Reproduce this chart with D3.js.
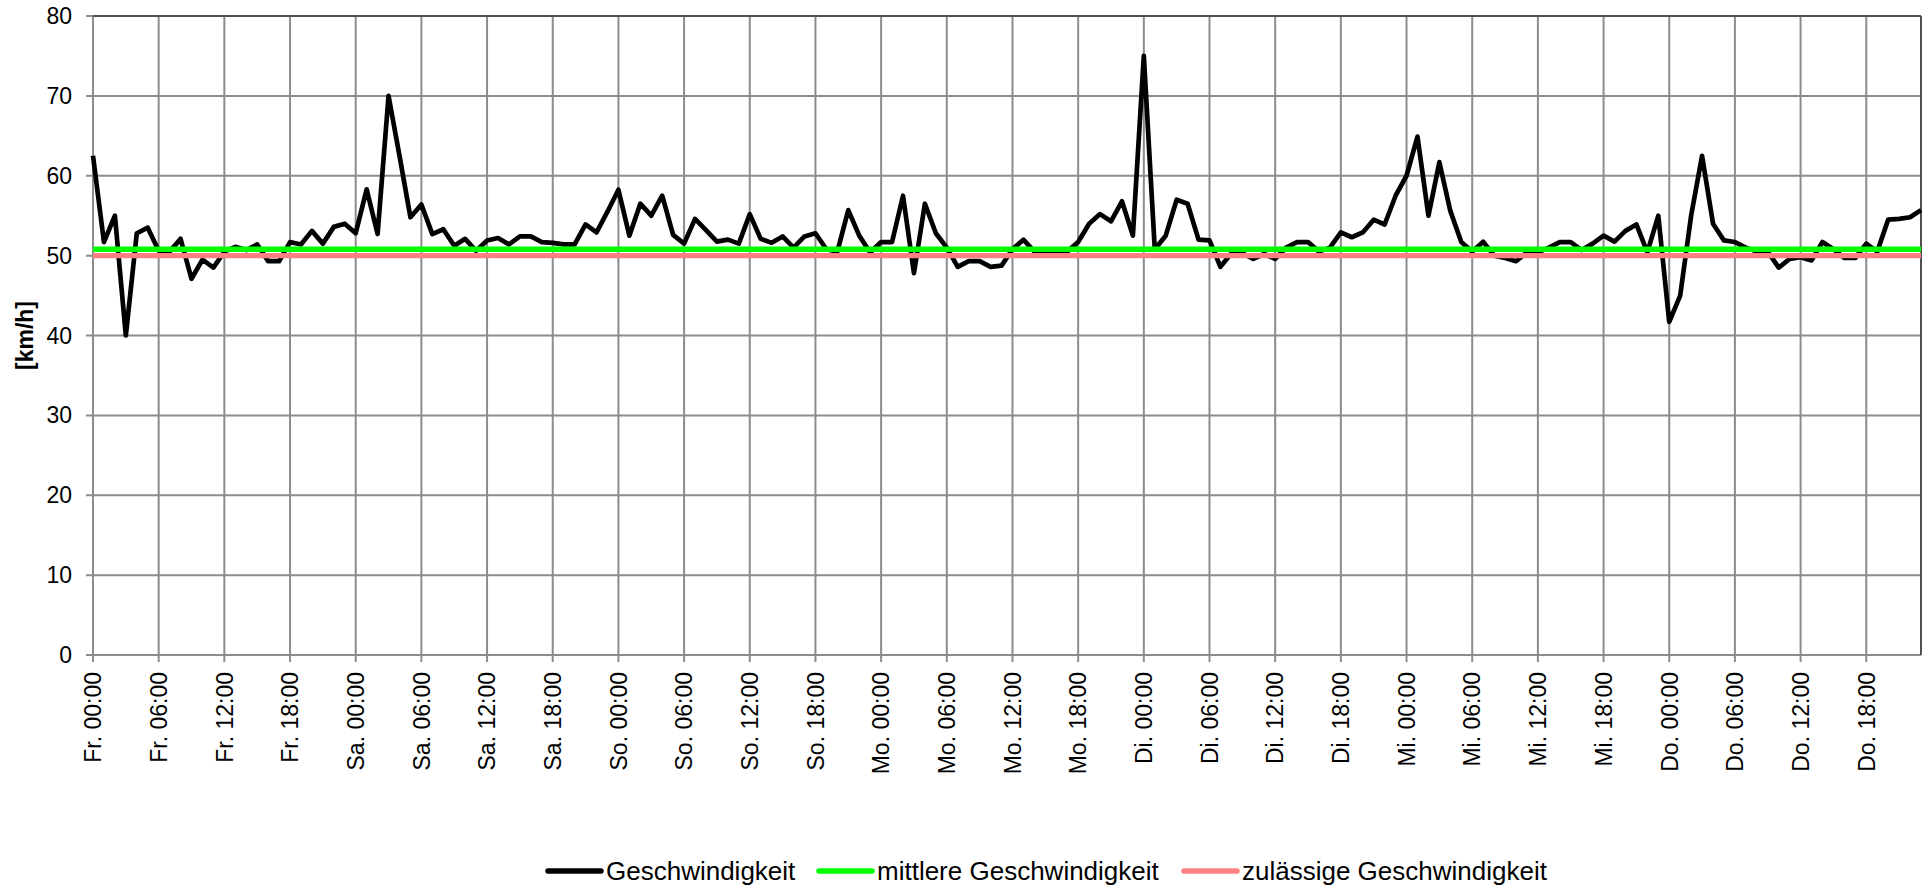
<html>
  <script src="https://cdnjs.cloudflare.com/ajax/libs/d3/7.8.5/d3.min.js"></script>
  <style>
    html, body{
      width: 100%;
      height: 100%;
      padding: 0px;
      margin: 0px;
      background: #fff;
    }
    text {
      font-family: "Liberation Sans", Arial, sans-serif;
      fill: #000;
    }
  </style>
  <body>
    <div id="graph"></div>
    <script>
      // hourly speeds, Fr. 00:00 .. Do. 23:00
      var speed = [
        62.5, 51.7, 55.0, 40.0, 52.8, 53.5, 50.6, 50.5, 52.1, 47.1, 49.5, 48.5,
        50.5, 51.1, 50.7, 51.4, 49.3, 49.3, 51.7, 51.4, 53.1, 51.5, 53.6, 54.0,
        52.8, 58.3, 52.7, 70.0, 62.5, 54.8, 56.4, 52.7, 53.3, 51.25, 52.1, 50.6,
        51.9, 52.2, 51.4, 52.4, 52.4, 51.7, 51.6, 51.4, 51.4, 53.9, 52.9, 55.5,
        58.25, 52.5, 56.5, 55.0, 57.5, 52.6, 51.5, 54.6, 53.2, 51.75, 52.0, 51.5,
        55.2, 52.1, 51.6, 52.4, 51.0, 52.4, 52.8, 50.8, 50.5, 55.7, 52.5, 50.4,
        51.7, 51.7, 57.5, 47.8, 56.5, 52.8, 51.0, 48.6, 49.3, 49.3, 48.6, 48.75,
        50.8, 52.0, 50.5, 50.5, 50.5, 50.5, 51.7, 54.0, 55.2, 54.3, 56.8, 52.5,
        75.0, 50.8, 52.5, 57.0, 56.5, 52.0, 51.9, 48.6, 50.3, 50.3, 49.6, 50.2,
        49.6, 51.0, 51.7, 51.7, 50.5, 51.0, 52.9, 52.3, 52.9, 54.5, 53.9, 57.5,
        60.0, 64.9, 55.0, 61.7, 55.6, 51.7, 50.5, 51.75, 50.0, 49.7, 49.3, 50.4,
        50.4, 51.0, 51.7, 51.7, 50.7, 51.5, 52.5, 51.75, 53.1, 53.9, 50.4, 55.0,
        41.7, 45.0, 55.0, 62.5, 54.0, 51.9, 51.7, 51.0, 50.5, 50.5, 48.5, 49.6,
        49.8, 49.4, 51.7, 50.8, 49.7, 49.7, 51.5, 50.5, 54.5, 54.6, 54.8, 55.7
      ];
      var meanSpeed = 50.8;
      var limitSpeed = 50;

      var days = ["Fr.", "Sa.", "So.", "Mo.", "Di.", "Mi.", "Do."];
      var times = ["00:00", "06:00", "12:00", "18:00"];
      var yTicks = [0, 10, 20, 30, 40, 50, 60, 70, 80];

      var seriesNames = ["Geschwindigkeit", "mittlere Geschwindigkeit", "zulässige Geschwindigkeit"];
      var seriesColors = ["#000000", "#00ff00", "#ff8080"];

      (function() {
        var width = 1923, height = 887;
        var pLeft = 93, pRight = 1921, pTop = 16, pBottom = 655;

        var svg = d3.select("#graph").append("svg")
          .attr("width", width).attr("height", height);

        var x = d3.scaleLinear().domain([0, speed.length - 1]).range([pLeft, pRight]);
        var y = d3.scaleLinear().domain([0, 80]).range([pBottom, pTop]);

        var xTicks = [];
        days.forEach(function(d, i) {
          times.forEach(function(t, j) { xTicks.push({ h: i * 24 + j * 6, label: d + " " + t }); });
        });

        var grid = "#8c8c8c";

        // horizontal grid + y ticks
        svg.append("g").selectAll("line").data(yTicks).enter().append("line")
          .attr("x1", pLeft - 7).attr("x2", pRight)
          .attr("y1", d => y(d)).attr("y2", d => y(d))
          .attr("stroke", grid).attr("stroke-width", 2);

        // vertical grid + x ticks
        svg.append("g").selectAll("line").data(xTicks).enter().append("line")
          .attr("x1", d => x(d.h)).attr("x2", d => x(d.h))
          .attr("y1", pTop).attr("y2", pBottom + 7)
          .attr("stroke", grid).attr("stroke-width", 2);

        // frame top / right
        svg.append("line").attr("x1", pLeft).attr("x2", pRight).attr("y1", pTop).attr("y2", pTop)
          .attr("stroke", "#505050").attr("stroke-width", 2);
        svg.append("line").attr("x1", pRight).attr("x2", pRight).attr("y1", pTop).attr("y2", pBottom)
          .attr("stroke", "#505050").attr("stroke-width", 2);

        // y labels
        svg.append("g").selectAll("text").data(yTicks).enter().append("text")
          .attr("x", pLeft - 21).attr("y", d => y(d)).attr("dy", "0.35em")
          .attr("text-anchor", "end").style("font-size", "23px")
          .text(d => d);

        // x labels
        svg.append("g").selectAll("text").data(xTicks).enter().append("text")
          .attr("transform", d => "translate(" + x(d.h) + "," + (pBottom + 17) + ") rotate(-90)")
          .attr("dy", "0.36em")
          .attr("text-anchor", "end").style("font-size", "23px")
          .text(d => d.label);

        // y title
        svg.append("text")
          .attr("transform", "translate(25," + ((pTop + pBottom) / 2) + ") rotate(-90)")
          .attr("dy", "0.35em").attr("text-anchor", "middle")
          .style("font-size", "23px").style("font-weight", "bold")
          .text("[km/h]");

        // speed line
        var line = d3.line().x((d, i) => x(i)).y(d => y(d));
        svg.append("path").datum(speed)
          .attr("d", line).attr("fill", "none")
          .attr("stroke", seriesColors[0]).attr("stroke-width", 4.7)
          .attr("stroke-linejoin", "round");

        // mean and limit lines
        [meanSpeed, limitSpeed].forEach(function(v, i) {
          svg.append("line")
            .attr("x1", x(0)).attr("x2", x(speed.length - 1))
            .attr("y1", y(v)).attr("y2", y(v))
            .attr("stroke", seriesColors[i + 1]).attr("stroke-width", 5.3);
        });

        // legend
        var legendX = [548, 819, 1184];
        var leg = svg.append("g").selectAll("g").data(seriesNames).enter().append("g")
          .attr("transform", (d, i) => "translate(" + legendX[i] + ",871)");
        leg.append("line").attr("x1", 0).attr("x2", 53)
          .attr("stroke", (d, i) => seriesColors[i]).attr("stroke-width", 5.5)
          .attr("stroke-linecap", "round");
        leg.append("text").attr("x", 58).attr("dy", "0.35em")
          .style("font-size", "26px").text(d => d);
      })();
    </script>
  </body>
</html>
